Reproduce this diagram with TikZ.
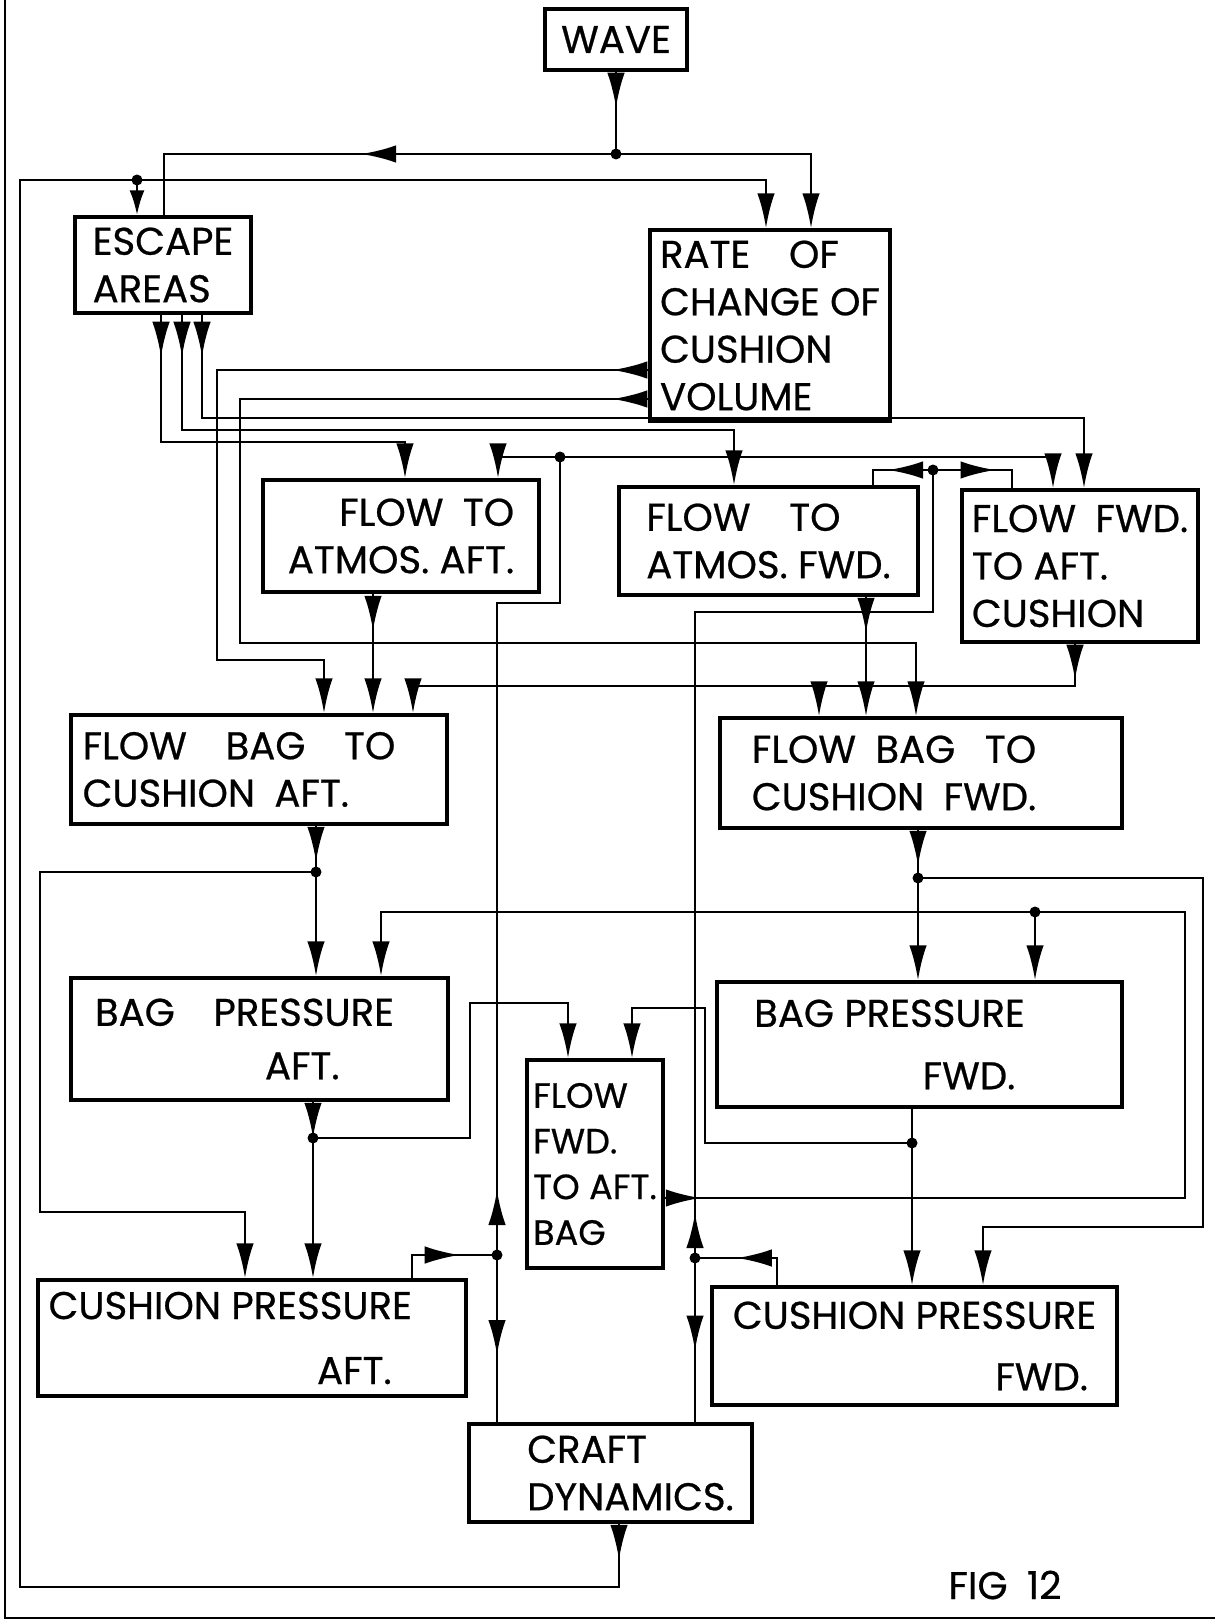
\documentclass[tikz,border=0pt]{standalone}
\usepackage{fontspec}
\usepackage{tikz}
\usetikzlibrary{arrows.meta, decorations.markings}
\newfontfamily\lettering{Poppins}[FakeBold=0.6]
\newcommand{\boxfont}{\lettering\fontsize{22}{27}\selectfont}
\tikzstyle{block} = [rectangle, draw=black, line width=2pt, inner sep=0pt, align=left, font=\boxfont]
\tikzstyle{line} = [line width=1.6pt]
\tikzstyle{arrow} = [line, -{Latex[length=7mm,width=3.5mm]}]
\tikzset{midtip/.style={postaction={decorate, decoration={markings, mark=at position #1 with {\arrow{Latex[length=7mm,width=3.5mm]}}}}}}

\begin{document}
\begin{tikzpicture}[x=0.02cm, y=-0.02cm]
\useasboundingbox (0,0) rectangle (1215,1622);

% boxes
\node (wave) [block, minimum width=2.84cm, minimum height=1.22cm] at (616,39.5) {WAVE};
\node (escape) [block, minimum width=3.52cm, minimum height=1.92cm] at (163,265) {ESCAPE\\AREAS};
\node (rate) [block, minimum width=4.8cm, minimum height=3.82cm] at (770,325.5) {RATE\quad OF\\CHANGE OF\\CUSHION\\VOLUME};
\node (atmosaft) [block, align=right, minimum width=5.52cm, minimum height=2.24cm] at (401,536) {FLOW\enspace TO\\ATMOS. AFT.};
\node (atmosfwd) [block, minimum width=5.98cm, minimum height=2.16cm] at (768.5,541) {FLOW\quad TO\\ATMOS. FWD.};
\node (ffac) [block, minimum width=4.72cm, minimum height=3.04cm] at (1080,566) {FLOW\enspace FWD.\\TO AFT.\\CUSHION};
\node (bagaft) [block, minimum width=7.52cm, minimum height=2.18cm] at (259,769.5) {FLOW\quad BAG\quad TO\hspace*{0.8cm}\\CUSHION\enspace AFT.};
\node (bagfwd) [block, minimum width=8.04cm, minimum height=2.2cm] at (921,773) {FLOW\enspace BAG\enspace\ TO\hspace*{1.08cm}\\CUSHION\enspace FWD.};
\node (presaft) [block, minimum width=7.54cm, minimum height=2.44cm] at (259.5,1039) {BAG\quad PRESSURE\hspace*{0.6cm}\\[0.12cm]\hspace*{3.4cm}AFT.};
\node (presfwd) [block, minimum width=8.1cm, minimum height=2.5cm] at (919.5,1044.5) {BAG PRESSURE\hspace*{1.2cm}\\[0.3cm]\hspace*{3.37cm}FWD.};
\node (ffab) [block, font=\lettering\fontsize{20}{26}\selectfont, minimum width=2.72cm, minimum height=4.16cm] at (595,1164) {FLOW\\FWD.\\TO AFT.\\BAG};
\node (cushaft) [block, minimum width=8.56cm, minimum height=2.32cm] at (252,1338) {CUSHION PRESSURE\hspace*{0.87cm}\\[0.35cm]\hspace*{5.37cm}AFT.};
\node (cushfwd) [block, minimum width=8.1cm, minimum height=2.36cm] at (914.5,1346) {CUSHION PRESSURE\\[0.28cm]\hspace*{5.25cm}FWD.};
\node (craft) [block, minimum width=5.66cm, minimum height=1.96cm] at (610.5,1473) {\hspace*{0.8cm}CRAFT\\\hspace*{0.8cm}DYNAMICS.};
\node (fig) [font=\boxfont] at (1005,1585) {FIG\enspace 12};

% junctions
\coordinate (f0) at (616,154);
\coordinate (fb) at (137,180);
\coordinate (ca) at (497,1255);
\coordinate (cb) at (560,457);
\coordinate (cf) at (695,1258);
\coordinate (cc) at (933,470);
\coordinate (da) at (316,872);
\coordinate (db) at (918,878);
\coordinate (dc) at (313,1138);
\coordinate (dd) at (912,1143);
\coordinate (de) at (1035,912);
\coordinate (kf) at (819,686);

% page edge
\draw [line] (5,0) -- (5,1618) -- (1215,1618);

% wave
\draw [line, midtip=0.72cm] (wave.south) -- (f0);
\draw [arrow] (f0) -| (811,0 |- rate.north);
\draw [line, midtip=5.1cm] (f0) -| (164,0 |- escape.north);

% craft dynamics feedback
\draw [arrow, midtip=0.72cm] (619,0 |- craft.south) |- (20,1587) |- (766,180) -- (766,0 |- rate.north);
\draw [arrow, -{Latex[length=5mm,width=3mm]}] (fb) -- (137,0 |- escape.north);

% escape areas
\draw [arrow, midtip=0.84cm] (161,0 |- escape.south) |- (405,442) -- (405,0 |- atmosaft.north);
\draw [arrow, midtip=0.84cm] (182,0 |- escape.south) |- (734,430) -- (734,0 |- atmosfwd.north);
\draw [arrow, midtip=0.84cm] (202,0 |- escape.south) |- (1084,418) -- (1084,0 |- ffac.north);

% rate of change of volume
\draw [arrow, midtip=0.72cm] (rate.west |- 0,370) -| (217,660) -| (324,0 |- bagaft.north);
\draw [arrow, midtip=0.72cm] (rate.west |- 0,399) -| (240,643) -| (916,0 |- bagfwd.north);

% flows to atmosphere and fwd to aft cushion
\draw [arrow, midtip=0.74cm] (373,0 |- atmosaft.south) -- (373,0 |- bagaft.north);
\draw [arrow, midtip=0.72cm] (866,0 |- atmosfwd.south) -- (866,0 |- bagfwd.north);
\draw [arrow, midtip=0.72cm] (1075,0 |- ffac.south) |- (413,686) -- (413,0 |- bagaft.north);
\draw [arrow] (kf) -- (819,0 |- bagfwd.north);

% flow bag to cushion
\draw [line, midtip=0.72cm] (316,0 |- bagaft.south) -- (da);
\draw [arrow] (da) -- (316,0 |- presaft.north);
\draw [arrow] (da) -| (40,1212) -| (245,0 |- cushaft.north);
\draw [line, midtip=0.72cm] (918,0 |- bagfwd.south) -- (db);
\draw [arrow] (db) -- (918,0 |- presfwd.north);
\draw [arrow] (db) -| (1203,1227) -| (983,0 |- cushfwd.north);

% bag pressures
\draw [line, midtip=0.72cm] (313,0 |- presaft.south) -- (dc);
\draw [arrow] (dc) -- (313,0 |- cushaft.north);
\draw [arrow] (dc) -| (470,1003) -| (568,0 |- ffab.north);
\draw [line, midtip=0.72cm] (912,0 |- presfwd.south) -- (dd);
\draw [arrow] (dd) -- (912,0 |- cushfwd.north);
\draw [arrow] (dd) -| (705,1008) -| (632,0 |- ffab.north);

% flow fwd to aft bag
\draw [arrow, midtip=0.72cm] (ffab.east |- 0,1198) -| (1185,912) -| (381,0 |- presaft.north);
\draw [arrow] (de) -- (1035,0 |- presfwd.north);

% cushion pressures
\draw [line, midtip=1.42cm] (412,0 |- cushaft.north) |- (ca);
\draw [line, midtip=2cm] (ca) -- (497,0 |- craft.north);
\draw [line, midtip=1.3cm] (ca) |- (560,603) -- (cb);
\draw [arrow] (cb) -| (498,0 |- atmosaft.north);
\draw [arrow] (cb) -| (1053,0 |- ffac.north);
\draw [line, midtip=1.35cm] (777,0 |- cushfwd.north) |- (cf);
\draw [line, midtip=1.85cm] (cf) -- (695,0 |- craft.north);
\draw [line, midtip=0.9cm] (cf) |- (933,612) -- (cc);
\draw [line, midtip=0.9cm] (cc) -| (873,0 |- atmosfwd.north);
\draw [line, midtip=1.25cm] (cc) -| (1012,0 |- ffac.north);

\foreach \d in {f0,fb,ca,cb,cf,cc,da,db,dc,dd,de}
  \fill (\d) circle (1.1mm);

\end{tikzpicture}
\end{document}
